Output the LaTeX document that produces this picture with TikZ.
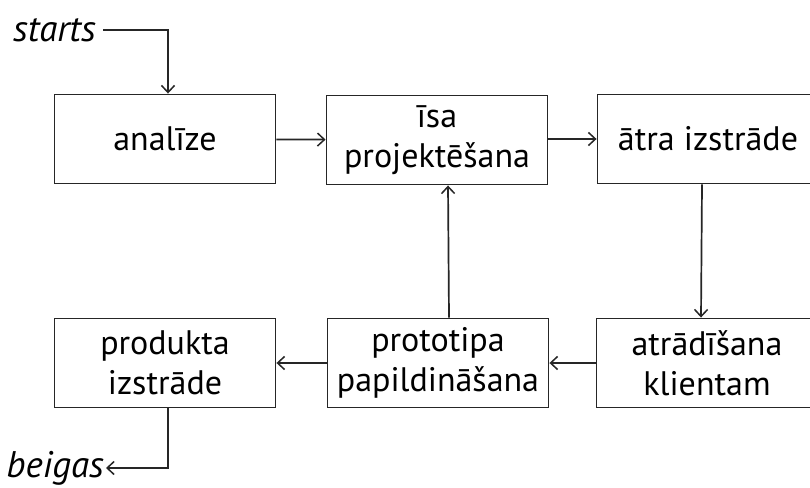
\documentclass[tikz,border=0pt]{standalone}
\usepackage{fontspec}
\setmainfont{PT Sans}
\usetikzlibrary{arrows.meta}
\begin{document}
\begin{tikzpicture}[x=1pt,y=-1pt,
  stage/.style={draw=black!85,line width=1.9pt,minimum width=221pt,minimum height=89pt,
    align=center,inner sep=0pt,font=\fontsize{34}{40}\selectfont},
  arr/.style={draw=black!85,line width=1.7pt,-{Straight Barb[length=7pt,width=13pt,line width=1.5pt]}},
  term/.style={font=\fontsize{37}{40}\selectfont\itshape,inner sep=0pt}]
\useasboundingbox (0,0) rectangle (810,487);
\clip (0,0) rectangle (810,487);
\fill[white] (0,0) rectangle (810,487);
% upper row
\node[stage] (an)  at (165,139) {analīze};
\node[stage] (isa) at (437,140) {īsa\\projektēšana};
\node[stage] (atr) at (708,139) {ātra izstrāde};
% lower row
\node[stage] (prod)  at (165,363) {produkta\\izstrāde};
\node[stage] (proto) at (438,363) {prototipa\\papildināšana};
\node[stage] (klie)  at (707,363) {atrādīšana\\klientam};
% start and end labels
\node[term,anchor=east] (st) at (96,30) {starts};
\node[term,anchor=east] (bg) at (104,468) {beigas};
% connectors
\draw[arr] (st.east) ++(7,0) -| ([xshift=3pt]an.north);
\draw[arr] (an) -- (isa);
\draw[arr] (isa.east |- atr) -- (atr.west);
\draw[arr] ([xshift=-6pt]atr.south) -- ([xshift=-6pt]klie.north);
\draw[arr] (klie) -- (proto);
\draw[arr] ([xshift=11pt]proto.north) -- ([xshift=11pt]isa.south);
\draw[arr] (proto.west) -- (prod.east |- proto.west);
\draw[arr] ([xshift=3pt]prod.south) |- ([xshift=2pt]bg.east);
\end{tikzpicture}
\end{document}
